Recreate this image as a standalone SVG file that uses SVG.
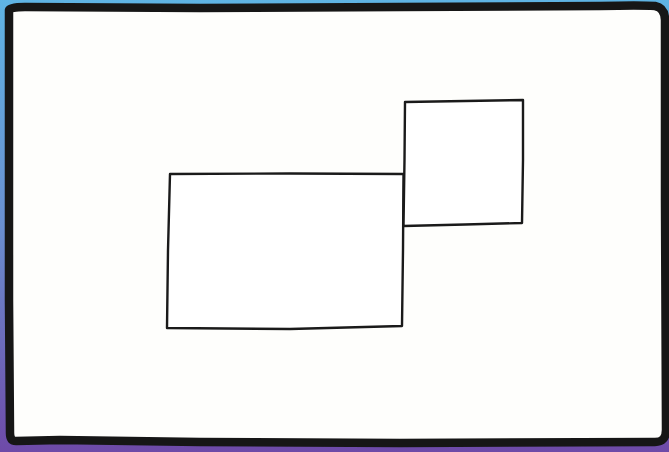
<svg xmlns="http://www.w3.org/2000/svg" width="669" height="452" viewBox="0 0 669 452">
  <defs>
    <linearGradient id="bg" x1="0" y1="0" x2="0" y2="1">
      <stop offset="0" stop-color="#5fb4e4"/>
      <stop offset="0.5" stop-color="#6a8fd0"/>
      <stop offset="1" stop-color="#6e4aa8"/>
    </linearGradient>
  </defs>
  <style>
    .frame { fill: #fefefc; stroke: #161616; stroke-width: 8.5; stroke-linejoin: round; }
    .box { fill: #ffffff; stroke: #1a1a1a; stroke-width: 2.4; stroke-linejoin: round; }
  </style>
  <rect x="0" y="0" width="669" height="452" fill="url(#bg)"/>
  <g id="frame">
    <path class="frame" d="M9,10 Q10,7 25,7 L200,8 L400,7 L600,6 Q640,5 655,6 Q665,8 665,20 L665,200 L666,430 Q666,442 655,442 L400,443 L200,442 L60,440 L16,441 Q10,441 10,433 L9,300 L9,100 Z"/>
  </g>
  <g id="large-box">
    <path class="box" d="M170,174 L290,173.5 L403.5,174 L403,250 L402,326 L290,329 L167,328 L168,250 Z"/>
  </g>
  <g id="small-box">
    <path class="box" d="M405,102 L465,101 L523,100 L523,160 L522,223 L465,224.5 L403.5,226 L404.5,160 Z"/>
  </g>
  <g id="connectors"></g>
</svg>
